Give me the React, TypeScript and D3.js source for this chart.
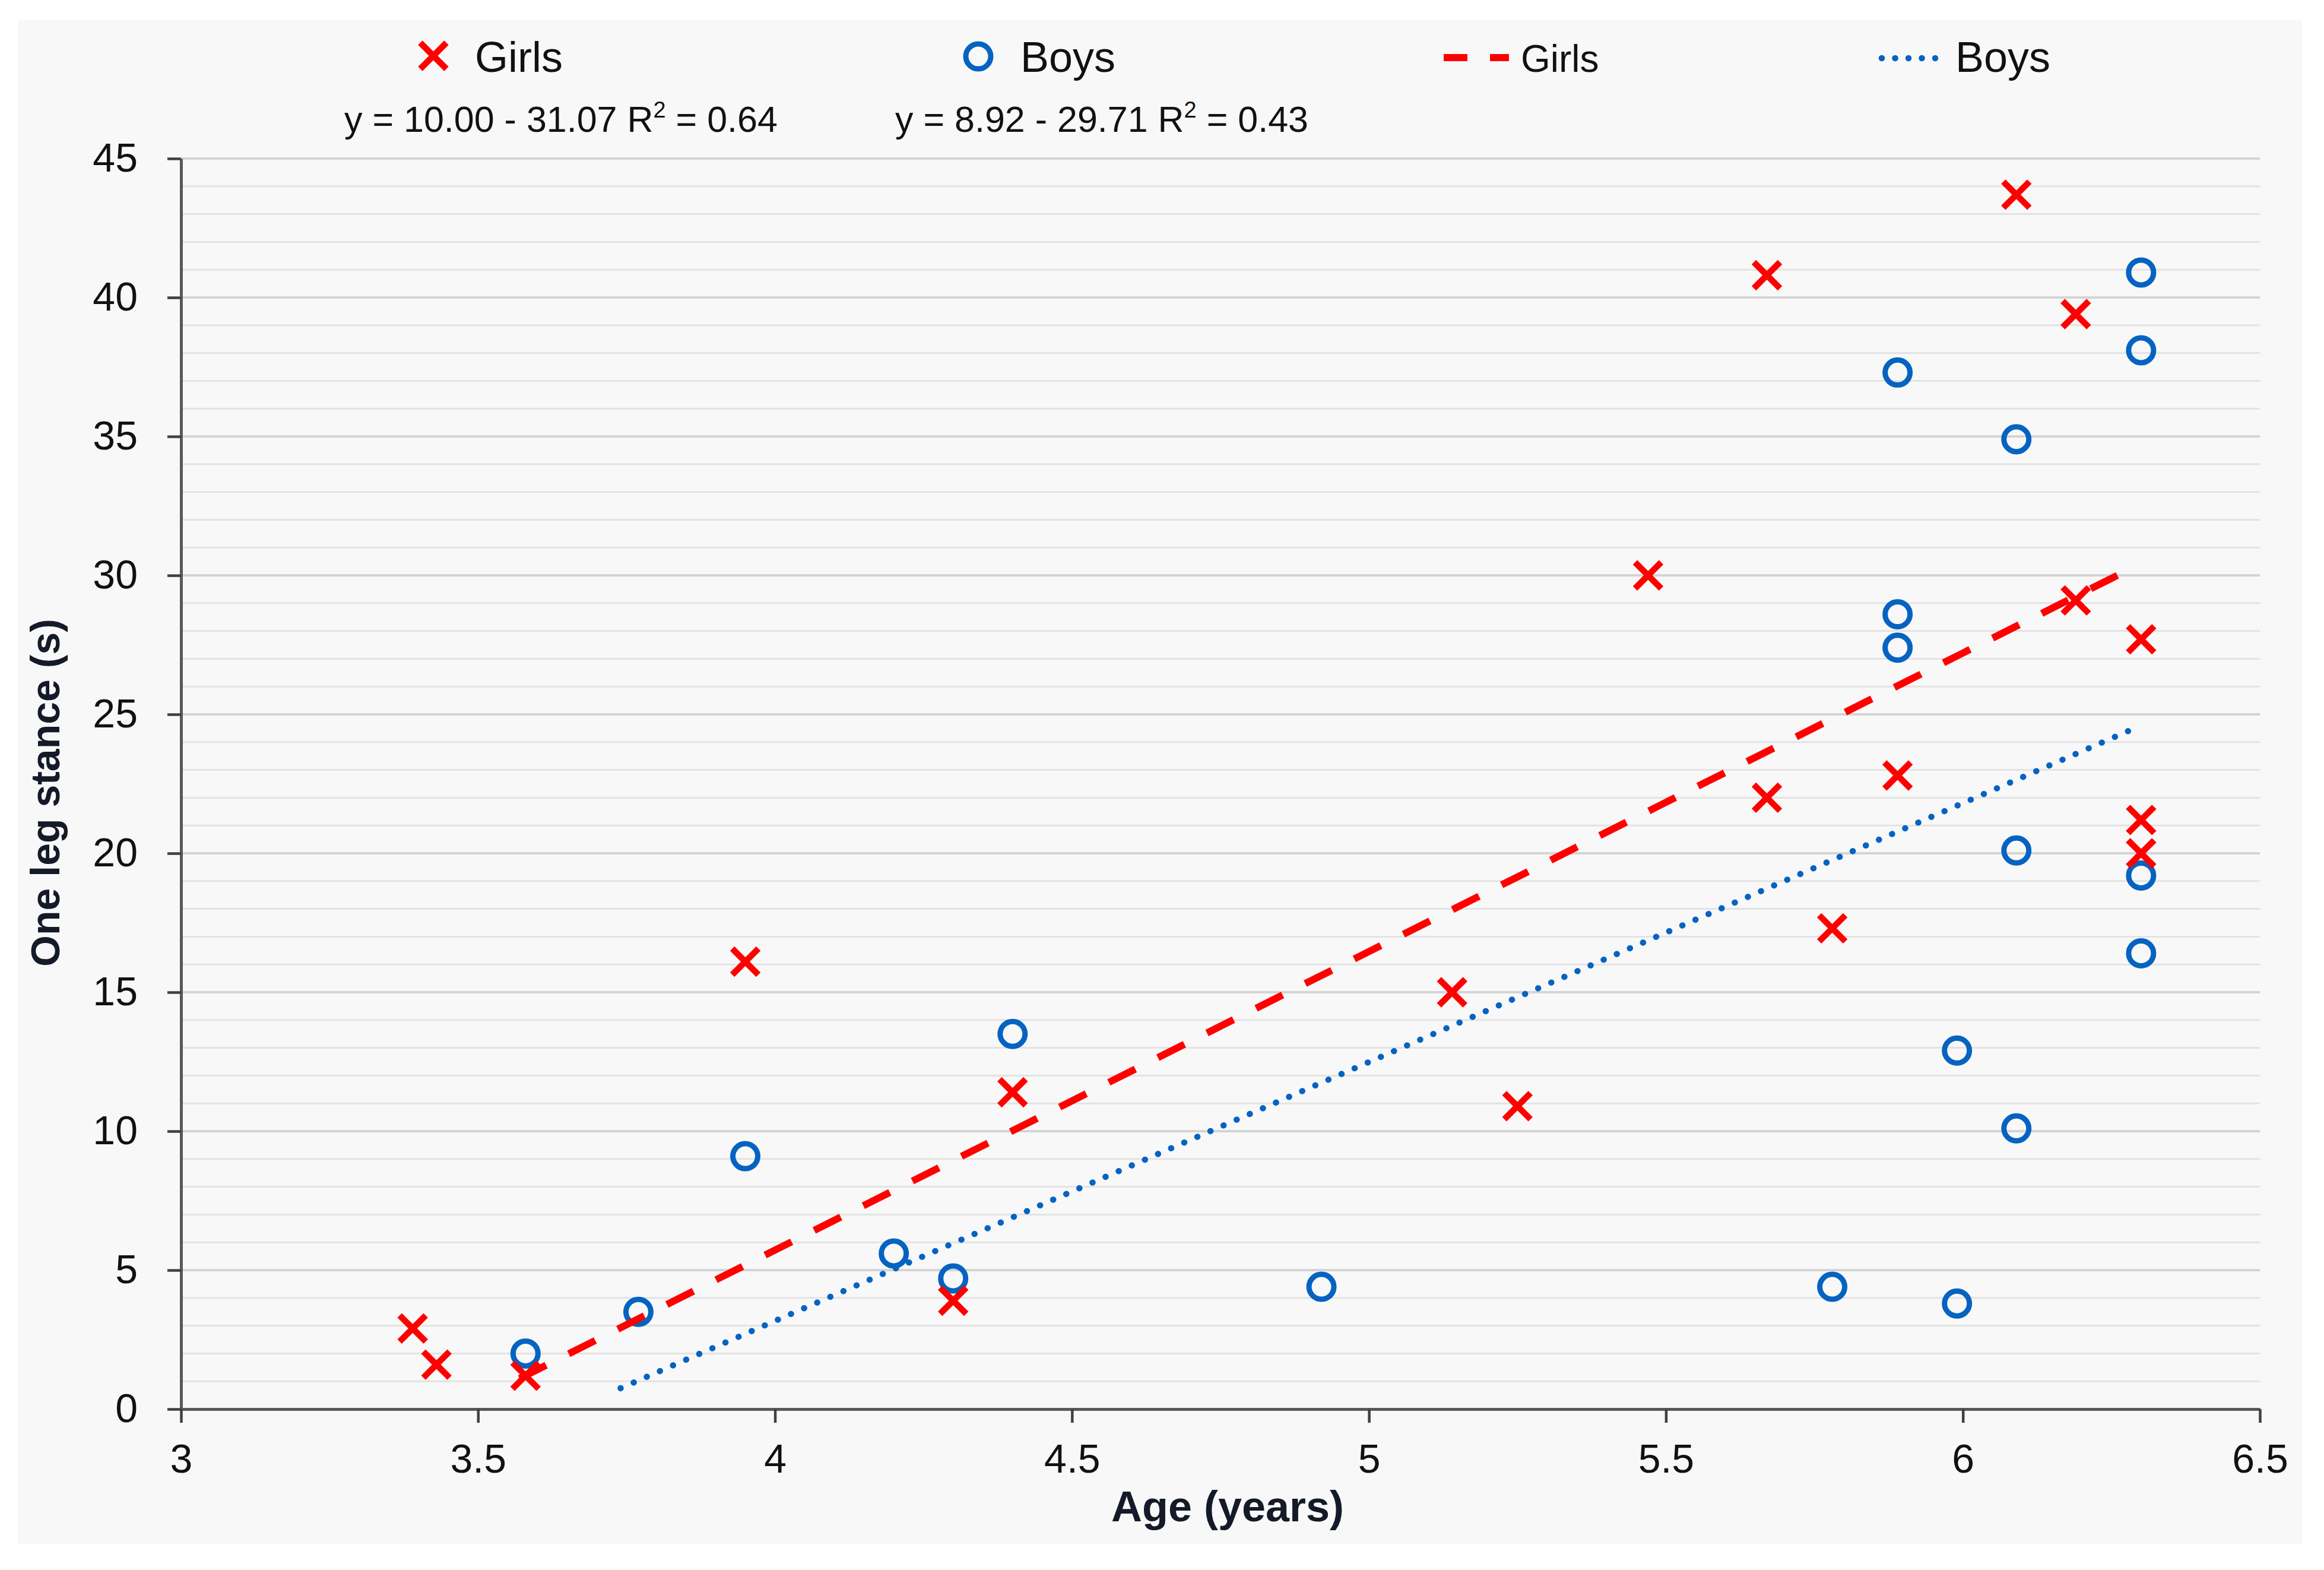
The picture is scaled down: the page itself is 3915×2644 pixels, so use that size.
import React, { useEffect, useRef } from 'react';
import * as d3 from 'd3';

// values
const girlsAge = [3.39, 3.43, 3.58, 3.95, 4.30, 4.40, 5.14, 5.25, 5.47, 5.67, 5.67, 5.78, 5.89, 6.09, 6.19, 6.19, 6.30, 6.30, 6.30];
const girlsStance = [2.9, 1.6, 1.2, 16.1, 3.9, 11.4, 15.0, 10.9, 30.0, 40.8, 22.0, 17.3, 22.8, 43.7, 39.4, 29.1, 27.7, 21.2, 20.0];

const boysAge = [3.58, 3.77, 3.95, 4.20, 4.30, 4.40, 4.92, 5.78, 5.89, 5.89, 5.89, 5.99, 5.99, 6.09, 6.09, 6.09, 6.30, 6.30, 6.30, 6.30];
const boysStance = [2.0, 3.5, 9.1, 5.6, 4.7, 13.5, 4.4, 4.4, 37.3, 28.6, 27.4, 12.9, 3.8, 34.9, 20.1, 10.1, 40.9, 38.1, 19.2, 16.4];

// trend line end points as drawn
const girlsTrendAge = [3.57, 6.26];
const girlsTrendStance = [1.1, 30.0];
const boysTrendAge = [3.74, 6.30];
const boysTrendStance = [0.75, 24.6];

const xTicks = [3, 3.5, 4, 4.5, 5, 5.5, 6, 6.5];
const yTicks = [0, 5, 10, 15, 20, 25, 30, 35, 40, 45];
const yMinor = d3.range(1, 45).filter(v => v % 5 !== 0);

const girlsEq = ['y = 10.00 - 31.07 R', '2', ' = 0.64'];
const boysEq = ['y = 8.92 - 29.71 R', '2', ' = 0.43'];

const RED = '#ff0000';
const BLUE = '#0563c1';
const FONT = '"Liberation Sans", Arial, sans-serif';

const W = 3915;
const H = 2644;

const App: React.FC = () => {
  const svgRef = useRef<SVGSVGElement>(null);

  useEffect(() => {
    if (!svgRef.current) return;
    const svg = d3.select(svgRef.current);
    svg.selectAll('*').remove();

    const left = 305, right = 3807, top = 267, bottom = 2373;

    const x = d3.scaleLinear().domain([3, 6.5]).range([left, right]);
    const y = d3.scaleLinear().domain([0, 45]).range([bottom, top]);

    // panel background
    svg.append('rect')
      .attr('x', 30).attr('y', 33)
      .attr('width', 3848).attr('height', 2567)
      .attr('fill', '#f8f8f8');

    // gridlines
    const g = svg.append('g');
    g.selectAll('.minor')
      .data(yMinor)
      .enter()
      .append('line')
      .attr('x1', left).attr('x2', right)
      .attr('y1', d => y(d)).attr('y2', d => y(d))
      .attr('stroke', '#e3e3e3')
      .attr('stroke-width', 3);
    g.selectAll('.major')
      .data(yTicks.slice(1))
      .enter()
      .append('line')
      .attr('x1', left).attr('x2', right)
      .attr('y1', d => y(d)).attr('y2', d => y(d))
      .attr('stroke', '#d4d4d4')
      .attr('stroke-width', 4);

    // axes
    const yAxis = svg.append('g')
      .attr('transform', `translate(${left},0)`)
      .call(d3.axisLeft(y).tickValues(yTicks).tickSize(23).tickSizeOuter(0).tickPadding(50).tickFormat(d => String(d)));
    const xAxis = svg.append('g')
      .attr('transform', `translate(0,${bottom})`)
      .call(d3.axisBottom(x).tickValues(xTicks).tickSize(23).tickSizeOuter(0).tickPadding(36).tickFormat(d => String(d)));

    [yAxis, xAxis].forEach(a => {
      a.select('.domain').attr('stroke', '#595959').attr('stroke-width', 5);
      a.selectAll('.tick line').attr('stroke', '#404040').attr('stroke-width', 4.5);
      a.selectAll('.tick text')
        .attr('fill', '#111')
        .style('font-family', FONT)
        .style('font-size', '68px');
    });

    // boys circles
    svg.append('g')
      .selectAll('circle')
      .data(boysAge.map((a, i) => [a, boysStance[i]]))
      .enter()
      .append('circle')
      .attr('cx', d => x(d[0]))
      .attr('cy', d => y(d[1]))
      .attr('r', 21)
      .attr('fill', 'none')
      .attr('stroke', BLUE)
      .attr('stroke-width', 9);

    // girls crosses
    const cross = (s: number) => `M${-s},${-s}L${s},${s}M${-s},${s}L${s},${-s}`;
    svg.append('g')
      .selectAll('path')
      .data(girlsAge.map((a, i) => [a, girlsStance[i]]))
      .enter()
      .append('path')
      .attr('transform', d => `translate(${x(d[0])},${y(d[1])})`)
      .attr('d', cross(22))
      .attr('stroke', RED)
      .attr('stroke-width', 10.5)
      .attr('fill', 'none');

    // trend lines: fit the dash period so each line ends on a full dash
    const len = (ax: number[], ay: number[]) =>
      Math.hypot(x(ax[1]) - x(ax[0]), y(ay[1]) - y(ay[0]));
    const gLen = len(girlsTrendAge, girlsTrendStance);
    const gPeriod = (gLen - 50) / Math.round((gLen - 50) / 93);
    svg.append('line')
      .attr('x1', x(girlsTrendAge[0])).attr('y1', y(girlsTrendStance[0]))
      .attr('x2', x(girlsTrendAge[1])).attr('y2', y(girlsTrendStance[1]))
      .attr('stroke', RED)
      .attr('stroke-width', 12)
      .attr('stroke-dasharray', `50 ${gPeriod - 50}`);
    const bLen = len(boysTrendAge, boysTrendStance);
    const bPeriod = bLen / Math.round(bLen / 24);
    svg.append('line')
      .attr('x1', x(boysTrendAge[0])).attr('y1', y(boysTrendStance[0]))
      .attr('x2', x(boysTrendAge[1])).attr('y2', y(boysTrendStance[1]))
      .attr('stroke', BLUE)
      .attr('stroke-width', 10.5)
      .attr('stroke-linecap', 'round')
      .attr('stroke-dasharray', `0.1 ${bPeriod - 0.1}`);

    // axis titles
    svg.append('text')
      .attr('transform', `translate(100,1335) rotate(-90)`)
      .attr('text-anchor', 'middle')
      .style('font-family', FONT)
      .style('font-weight', 'bold')
      .style('font-size', '68px')
      .attr('fill', '#141a28')
      .text('One leg stance (s)');
    svg.append('text')
      .attr('x', 2068).attr('y', 2562)
      .attr('text-anchor', 'middle')
      .style('font-family', FONT)
      .style('font-weight', 'bold')
      .style('font-size', '72px')
      .attr('fill', '#141a28')
      .text('Age (years)');

    // legend
    const leg = svg.append('g').style('font-family', FONT).attr('fill', '#111');
    leg.append('path')
      .attr('transform', 'translate(730,94)')
      .attr('d', cross(22))
      .attr('stroke', RED).attr('stroke-width', 10.5).attr('fill', 'none');
    leg.append('text').attr('x', 800).attr('y', 121).style('font-size', '72px').text('Girls');
    leg.append('circle')
      .attr('cx', 1648).attr('cy', 95).attr('r', 21)
      .attr('fill', 'none').attr('stroke', BLUE).attr('stroke-width', 9);
    leg.append('text').attr('x', 1719).attr('y', 121).style('font-size', '72px').text('Boys');
    leg.append('line')
      .attr('x1', 2432).attr('x2', 2542).attr('y1', 97).attr('y2', 97)
      .attr('stroke', RED).attr('stroke-width', 12).attr('stroke-dasharray', '40 38');
    leg.append('text').attr('x', 2562).attr('y', 121).style('font-size', '64px').text('Girls');
    leg.append('line')
      .attr('x1', 3170).attr('x2', 3260).attr('y1', 98).attr('y2', 98)
      .attr('stroke', BLUE).attr('stroke-width', 10.5).attr('stroke-linecap', 'round').attr('stroke-dasharray', '0.1 22.4');
    leg.append('text').attr('x', 3294).attr('y', 121).style('font-size', '72px').text('Boys');

    // equations
    [[girlsEq, 580], [boysEq, 1508]].forEach(([eq, ex]) => {
      const parts = eq as string[];
      const t = leg.append('text').attr('x', ex as number).attr('y', 222).style('font-size', '61px');
      t.append('tspan').text(parts[0]);
      t.append('tspan').attr('dy', -24).style('font-size', '38px').text(parts[1]);
      t.append('tspan').attr('dy', 24).text(parts[2]);
    });
  }, []);

  return (
    <svg
      ref={svgRef}
      width={W}
      height={H}
      style={{ position: 'absolute', left: 0, top: 0, background: '#ffffff' }}
    />
  );
};

export default App;
